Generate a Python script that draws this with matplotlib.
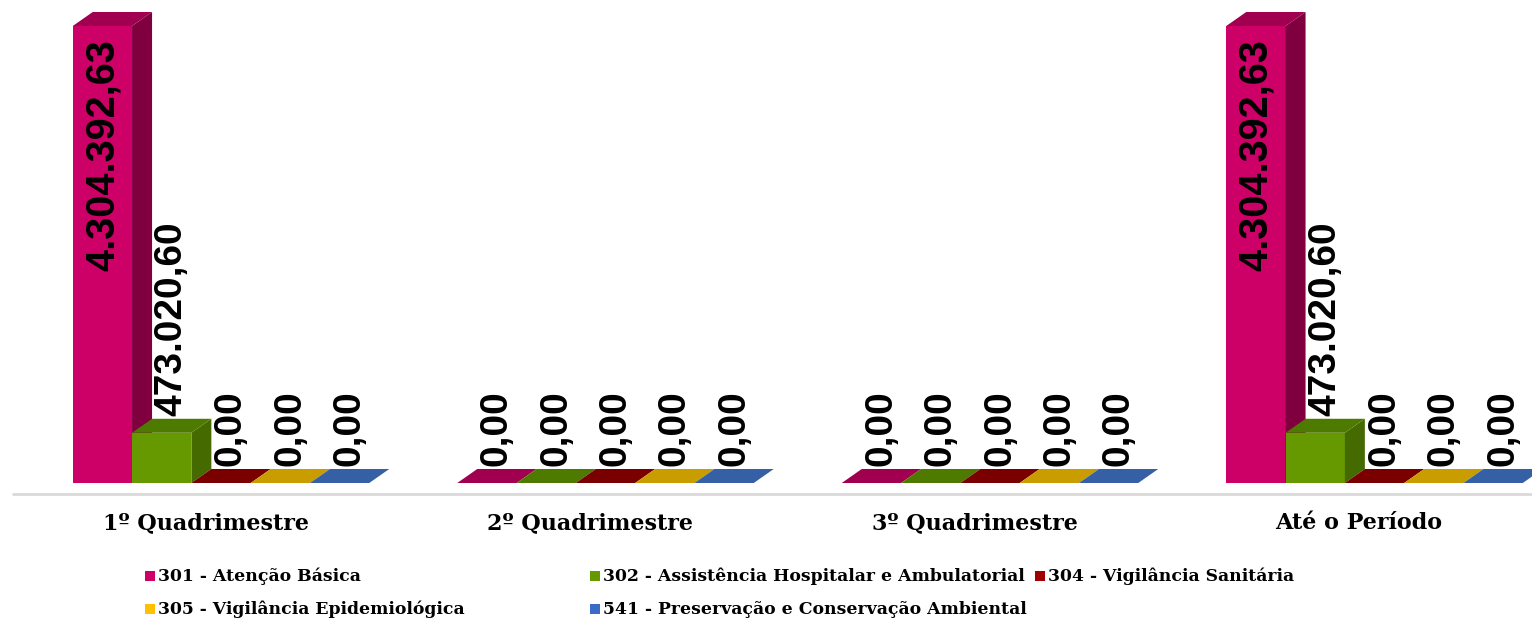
import numpy as np
import matplotlib
matplotlib.use("Agg")
import matplotlib.pyplot as plt
from matplotlib.patches import Polygon, Rectangle

# data
categories = ["1º Quadrimestre", "2º Quadrimestre", "3º Quadrimestre", "Até o Período"]
series = ["301 - Atenção Básica",
          "302 - Assistência Hospitalar e Ambulatorial",
          "304 - Vigilância Sanitária",
          "305 - Vigilância Epidemiológica",
          "541 - Preservação e Conservação Ambiental"]
atencao_basica = [4304392.63, 0.00, 0.00, 4304392.63]
assist_hospitalar = [473020.60, 0.00, 0.00, 473020.60]
vig_sanitaria = [0.00, 0.00, 0.00, 0.00]
vig_epidemiologica = [0.00, 0.00, 0.00, 0.00]
preservacao = [0.00, 0.00, 0.00, 0.00]
values = [atencao_basica, assist_hospitalar, vig_sanitaria, vig_epidemiologica, preservacao]

# front / top / side colours per series
front = ["#CC0066", "#669900", "#990000", "#F5C000", "#3A67C0"]
top = ["#A0004F", "#4F7A00", "#7A0000", "#C99C00", "#3560A5"]
side = ["#80003F", "#456A00", "#600000", "#A07C00", "#2A4F88"]
legend_col = ["#CC0066", "#669900", "#A00000", "#FFC000", "#3A6BC8"]


def fmt(v):
    s = f"{v:,.2f}"
    return s.replace(",", "X").replace(".", ",").replace("X", ".")


W, H = 1532, 623
fig = plt.figure(figsize=(W / 100, H / 100), dpi=100)
base_px = 483
ax = fig.add_axes([0, (H - base_px) / H, 1, base_px / H])
ax.set_axis_off()

vmax = max(max(s) for s in values)
ymax = vmax * base_px / 457
ax.set_ylim(0, ymax)
group_px = 384.5
ax.set_xlim(-221 / group_px, (W - 221) / group_px)

bw = 59.3 / group_px          # bar width
dx = 20 / group_px            # depth offsets
dy = 14 / base_px * ymax
nser = len(series)

for ci in range(len(categories)):
    for si in range(nser):
        v = values[si][ci]
        x0 = ci + (si - nser / 2) * bw
        x1 = x0 + bw
        # front face
        if v > 0:
            ax.add_patch(Rectangle((x0, 0), bw, v, facecolor=front[si], edgecolor="none"))
        # side face
        ax.add_patch(Polygon([(x1, 0), (x1 + dx, dy), (x1 + dx, v + dy), (x1, v)],
                             closed=True, facecolor=side[si], edgecolor="none"))
        # top face
        ax.add_patch(Polygon([(x0, v), (x1, v), (x1 + dx, v + dy), (x0 + dx, v + dy)],
                             closed=True, facecolor=top[si], edgecolor="none"))
        # label
        if v == vmax:
            ax.text(x0 + bw / 2, v - 13 / base_px * ymax, fmt(v), rotation=90,
                    ha="center", va="top", fontsize=28.5, fontweight="bold",
                    family="Liberation Sans", color="black")
        else:
            ax.text(x0 + bw / 2 + dx / 2, v + dy + 3 / base_px * ymax, fmt(v), rotation=90,
                    ha="center", va="bottom", fontsize=28, fontweight="bold",
                    family="Liberation Sans", color="black", clip_on=False)

# floor line
ax.plot([(12 - 221) / group_px, (W - 221) / group_px], [-11 / base_px * ymax] * 2,
        color="#D9D9D9", lw=2, clip_on=False, solid_capstyle="butt")

# category labels
for ci, cat in enumerate(categories):
    ax.text(ci - 0.04, -40 / base_px * ymax, cat, ha="center", va="center",
            fontsize=16, fontweight="bold", family="DejaVu Serif", clip_on=False)

# legend, row-major in three columns
col_px = [145, 590, 1035]
row_px = [576, 609]
for si, name in enumerate(series):
    r, c = divmod(si, 3)
    xp, yp = col_px[c], row_px[r]
    fig.patches.append(Rectangle((xp / W, 1 - (yp + 5) / H), 10 / W, 10 / H,
                                 transform=fig.transFigure, facecolor=legend_col[si],
                                 edgecolor="none"))
    fig.text((xp + 13) / W, 1 - yp / H, name, ha="left", va="center",
             fontsize=12.4, fontweight="bold", family="DejaVu Serif")

fig.savefig("out.png", dpi=100, facecolor="white")
